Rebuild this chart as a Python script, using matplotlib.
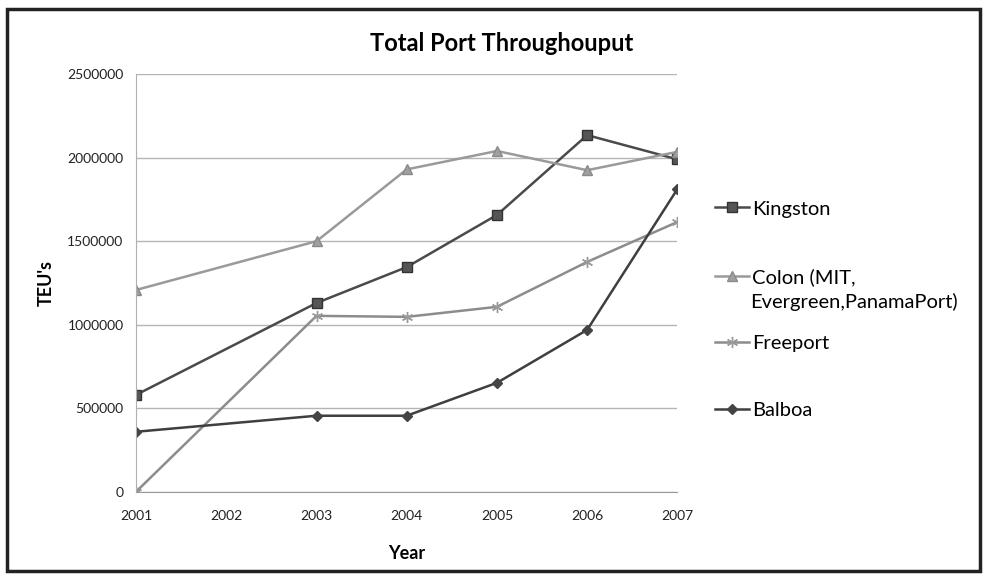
import matplotlib
matplotlib.use("Agg")
import matplotlib.pyplot as plt
from matplotlib.patches import Rectangle

plt.rcParams['font.family'] = ['Lato', 'DejaVu Sans']

years = [2001, 2003, 2004, 2005, 2006, 2007]
kingston = [580000, 1130000, 1345000, 1657000, 2135000, 1990000]
colon = [1208000, 1500000, 1930000, 2040000, 1925000, 2035000]
freeport = [0, 1053000, 1047000, 1107000, 1376000, 1615000]
balboa = [359000, 455000, 455000, 652000, 969000, 1812000]

series_names = ['Kingston', 'Colon (MIT,', 'Freeport', 'Balboa']
colon_second_line = 'Evergreen,PanamaPort)'
year_ticks = [2001, 2002, 2003, 2004, 2005, 2006, 2007]
teu_ticks = [0, 500000, 1000000, 1500000, 2000000, 2500000]

fig = plt.figure(figsize=(9.86, 5.84), dpi=100)
ax = fig.add_axes([0.138, 0.158, 0.549, 0.715])

ax.plot(years, kingston, color='#4a4a4a', lw=1.8, marker='s', ms=7, mfc='#555555', mec='#333333')
ax.plot(years, colon, color='#9a9a9a', lw=1.8, marker='^', ms=7, mfc='#a0a0a0', mec='#8a8a8a')
ax.plot(years, freeport, color='#8c8c8c', lw=1.8, marker=(6, 2, 0), ms=8, mec='#9a9a9a', mew=1.0)
ax.plot(years, balboa, color='#3f3f3f', lw=1.8, marker='D', ms=5, mfc='#444444', mec='#444444')

ax.set_xlim(2001, 2007)
ax.set_ylim(0, 2500000)
ax.set_xticks(year_ticks)
ax.set_yticks(teu_ticks)
ax.set_xticklabels([str(y) for y in year_ticks], fontsize=10)
ax.set_yticklabels([str(t) for t in teu_ticks], fontsize=10)
ax.tick_params(length=0, colors='#222222')
ax.tick_params(axis='x', pad=13)
ax.tick_params(axis='y', pad=9)
ax.yaxis.grid(True, color='#b5b5b5', lw=1.0)
ax.set_axisbelow(True)
for side in ['top', 'right']:
    ax.spines[side].set_visible(False)
ax.spines['left'].set_color('#b0b0b0')
ax.spines['bottom'].set_color('#999999')

ax.set_xlabel('Year', fontsize=13, fontweight='bold', labelpad=17)
ax.set_ylabel("TEU's", fontsize=13, fontweight='bold', labelpad=9)
fig.text(0.509, 0.926, 'Total Port Throughouput', ha='center', va='center',
         fontsize=17, fontweight='bold')

# one legend entry per series, stacked down the right side
entry_y = [209, 277, 343, 410]
for line, name, y in zip(ax.lines, series_names, entry_y):
    fig.legend([line], [name], loc='center left', bbox_to_anchor=(715 / 986, 1 - y / 584),
               frameon=False, fontsize=14.5, handlelength=1.7, handletextpad=0.12,
               borderpad=0, borderaxespad=0)
fig.text(750 / 986, 1 - 302 / 584, colon_second_line, ha='left', va='center', fontsize=14.5)

# outer frame around the chart
fig.patches.append(Rectangle((0.007, 0.022), 0.987, 0.962, transform=fig.transFigure,
                             fill=False, ec='#222222', lw=2.5))

fig.savefig('out.png', dpi=100)
